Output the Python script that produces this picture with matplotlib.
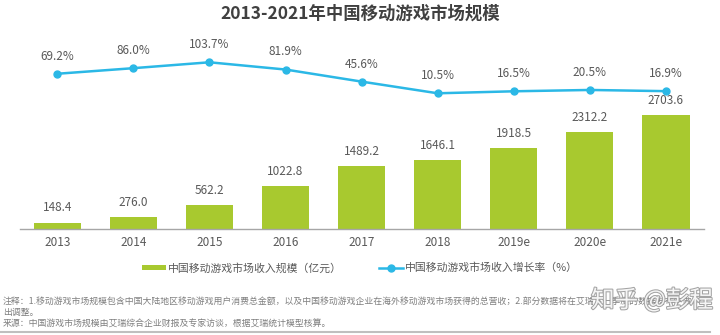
import matplotlib.pyplot as plt
import matplotlib.patheffects as pe

plt.rcParams['font.family'] = ['Noto Sans CJK SC', 'DejaVu Sans']

years = ["2013", "2014", "2015", "2016", "2017", "2018", "2019e", "2020e", "2021e"]
revenue = [148.4, 276.0, 562.2, 1022.8, 1489.2, 1646.1, 1918.5, 2312.2, 2703.6]
growth = [69.2, 86.0, 103.7, 81.9, 45.6, 10.5, 16.5, 20.5, 16.9]

green = "#a8c92f"
blue = "#2bb8e6"
txt = "#595959"

fig = plt.figure(figsize=(7.2, 3.35), dpi=100)
ax = fig.add_axes([20 / 720, 1 - 229 / 335, 684 / 720, 189 / 335])
x = list(range(len(years)))

bars = ax.bar(x, revenue, width=0.62, color=green, zorder=2)
ax.set_xlim(-0.49, 8.5)
ax.set_ylim(0, 4500)
for xi, v in zip(x, revenue):
    ax.annotate(f"{v:.1f}", (xi, v), xytext=(0, 6), textcoords="offset points",
                ha="center", va="bottom", fontsize=8.5, color=txt)

ax.set_xticks(x)
ax.set_xticklabels(years, fontsize=8.5, color=txt)
ax.tick_params(axis="x", length=0, pad=5)
ax.set_yticks([])
for s in ["top", "left", "right"]:
    ax.spines[s].set_visible(False)
ax.spines["bottom"].set_color("#a6a6a6")
ax.spines["bottom"].set_linewidth(1)

ax2 = ax.twinx()
line, = ax2.plot(x, growth, color=blue, lw=1.8, marker="o", markersize=5, zorder=3)
ax2.set_ylim(-397.5, 170.7)
ax2.set_axis_off()
for xi, v in zip(x, growth):
    ax2.annotate(f"{v:.1f}%", (xi, v), xytext=(0, 8), textcoords="offset points",
                 ha="center", va="bottom", fontsize=8.5, color=txt)

fig.text(0.5, 1 - 14 / 335, "2013-2021年中国移动游戏市场规模", ha="center", va="center",
         fontsize=12.5, fontweight="bold", color="#404040")

fig.legend([bars, line], ["中国移动游戏市场收入规模（亿元）", "中国移动游戏市场收入增长率（%）"],
           loc="center", bbox_to_anchor=(0.5, 1 - 268 / 335), ncol=2, frameon=False,
           fontsize=7.8, labelcolor=txt, handlelength=2.2, handleheight=0.45,
           handletextpad=0.15, columnspacing=3.5)

notes = [
    "注释：1.移动游戏市场规模包含中国大陆地区移动游戏用户消费总金额，以及中国移动游戏企业在海外移动游戏市场获得的总营收；2.部分数据将在艾瑞下一季度的数据发布中做",
    "出调整。",
    "来源：中国游戏市场规模由艾瑞综合企业财报及专家访谈，根据艾瑞统计模型核算。",
]
for i, t in enumerate(notes):
    fig.text(3 / 720, 1 - (301 + i * 11.5) / 335, t, ha="left", va="center",
             fontsize=6.4, color="#7f7f7f")

fig.add_artist(plt.Line2D([0, 710 / 720], [1 - 332 / 335] * 2, color="#bfbfbf", lw=1.5))

# watermark sits over the footnote, as in the source image
fig.text(652 / 720, 1 - 300 / 335, "知乎 @彭程", ha="center", va="center", fontsize=17,
         color="white", alpha=0.9,
         path_effects=[pe.withStroke(linewidth=1.5, foreground="#9a9a9a")])

fig.savefig("out.png", dpi=100)
